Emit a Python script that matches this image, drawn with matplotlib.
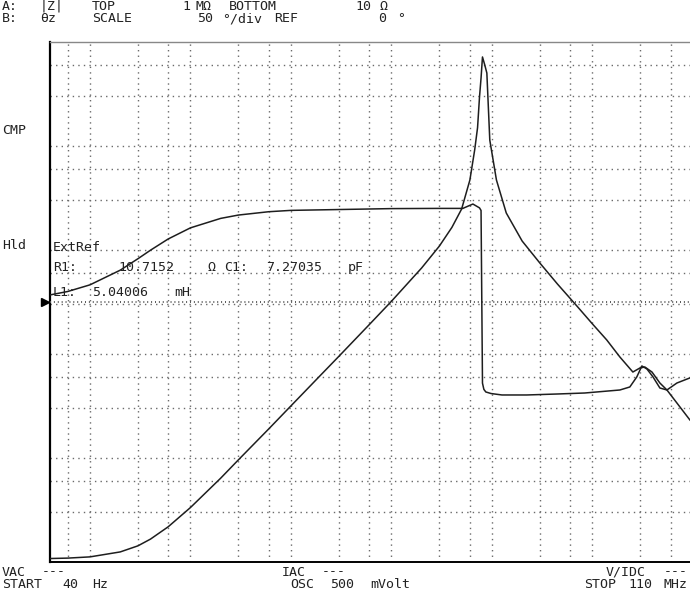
import matplotlib
matplotlib.use("Agg")
import matplotlib.pyplot as plt
from matplotlib.transforms import blended_transform_factory

W, H = 690, 598

# ---- data ----
freq_z = [40, 60, 100, 200, 300, 400, 600, 1e3, 2e3, 3e3, 6e3, 1e4, 2e4, 3e4, 6e4,
          1e5, 2e5, 3e5, 4e5, 5e5, 6.04e5, 6.74e5, 7.2e5, 7.53e5, 7.8e5, 8.06e5, 8.5e5,
          8.91e5, 9.53e5, 1.11e6, 1.39e6, 2e6, 3e6, 4.5e6, 7e6, 1e7, 1.39e7, 1.88e7,
          2.53e7, 2.97e7, 3.33e7, 3.92e7, 4.70e7, 5.52e7, 6.94e7, 9.35e7, 1.1e8]
z_mag = [10.8, 10.9, 11.2, 12.5, 14.3, 16.6, 21.8, 33.4, 64, 96, 190, 317, 634, 950, 1910,
         3210, 6720, 10900, 16500, 24800, 47100, 91600, 150000, 296000, 450000, 718000, 600000,
         503000, 114000, 47100, 22700, 12200, 7500, 4700, 2900, 1950, 1365, 935,
         671, 733, 750, 671, 526, 451, 338, 232, 200]

freq_ph = [40, 60, 100, 200, 300, 400, 600, 1e3, 2e3, 3e3, 6e3, 1e4, 1e5, 3e5,
           5.14e5, 6.47e5, 7.53e5, 7.8e5, 8.06e5, 8.32e5, 8.7e5, 9.8e5, 1.26e6, 2.22e6,
           4.35e6, 8.4e6, 1.88e7, 2.36e7, 2.77e7, 3.11e7, 3.49e7, 4.01e7, 4.70e7,
           5.52e7, 6.94e7, 9.35e7, 1.1e8]
phase = [6.8, 10.1, 16.5, 30.6, 41.6, 49.8, 60.6, 71.3, 80.4, 83.6, 86.8, 88.1, 89.8, 90,
         90, 94.2, 90.5, 88, -78, -84, -86.5, -88, -89.4, -89.4,
         -88.5, -87.5, -84.6, -81.7, -72, -61.5, -64.4, -72, -82.7,
         -84.6, -77.9, -73, -71]

f_start, f_stop = 40, 110e6
z_bottom, z_top = 10, 1e6
ph_ref, ph_scale, n_div = 0, 50, 10

grid_freqs = [m * 10 ** k for k in range(1, 9) for m in (1, 3, 6)]
grid_z = [m * 10 ** k for k in range(1, 7) for m in (1, 3, 6)]

# ---- figure ----
fig = plt.figure(figsize=(W / 100, H / 100), dpi=100)
fig.patch.set_facecolor("white")
ax = fig.add_axes([50 / W, 1 - 562 / H, 647 / W, 520 / H])
ax.set_xscale("log")
ax.set_yscale("log")
ax.set_xlim(f_start, f_stop)
ax.set_ylim(z_bottom, z_top)
ax.set_xticks([]); ax.set_xticks([], minor=True)
ax.set_yticks([]); ax.set_yticks([], minor=True)

ax2 = ax.twinx()
ax2.set_ylim(ph_ref - ph_scale * n_div / 2, ph_ref + ph_scale * n_div / 2)
ax2.set_yticks([]); ax2.set_yticks([], minor=True)
for s in ax2.spines.values():
    s.set_visible(False)

gstyle = dict(color="#6a6a6a", lw=1.0, ls=(0, (1, 3)), zorder=1)
for f in grid_freqs:
    if f_start < f < f_stop:
        ax.axvline(f, **gstyle)
for z in grid_z:
    if z_bottom < z < z_top:
        ax.axhline(z, **gstyle)
# reference line at REF 0 deg
ax2.axhline(ph_ref, color="#555555", lw=1.4, ls=(0, (0.5, 1.5)), zorder=1)

ax.spines["left"].set_color("black"); ax.spines["left"].set_linewidth(1.6)
ax.spines["bottom"].set_color("black"); ax.spines["bottom"].set_linewidth(1.4)
ax.spines["top"].set_color("#888888"); ax.spines["top"].set_linewidth(1.0)
ax.spines["right"].set_visible(False)

ax.plot(freq_z, z_mag, color="#1e1e1e", lw=1.1, zorder=3)
ax2.plot(freq_ph, phase, color="#1e1e1e", lw=1.1, zorder=3)

# reference marker
tr = blended_transform_factory(ax2.transAxes, ax2.transData)
ax2.plot([-0.008], [ph_ref], marker=">", ms=6, color="black", transform=tr, clip_on=False)

# ---- texts ----
font = dict(family="DejaVu Sans Mono", fontsize=9.5, color="#222222", va="center", ha="left")
texts = [
    ("A:", 2, 6), ("|Z|", 40, 6), ("TOP", 92, 6), ("1", 182, 6), ("MΩ", 196, 6),
    ("BOTTOM", 229, 6), ("10", 355, 6), ("Ω", 380, 6),
    ("B:", 2, 19), ("θz", 40, 19), ("SCALE", 92, 19), ("50", 197, 19),
    ("°/div", 222, 19), ("REF", 274, 19), ("0", 378, 19), ("°", 397, 19),
    ("CMP", 2, 131), ("Hld", 2, 245),
    ("ExtRef", 53, 247), ("R1:", 53, 268), ("10.7152", 118, 268), ("Ω", 207, 268),
    ("C1:", 224, 268), ("7.27035", 266, 268), ("pF", 348, 268),
    ("L1:", 53, 292), ("5.04006", 92, 292), ("mH", 174, 292),
    ("VAC", 2, 572), ("---", 42, 572), ("START", 2, 585), ("40", 62, 585), ("Hz", 92, 585),
    ("IAC", 282, 572), ("---", 322, 572), ("OSC", 290, 585), ("500", 330, 585),
    ("mVolt", 370, 585), ("V/IDC", 606, 572), ("---", 664, 572),
    ("STOP", 584, 585), ("110", 628, 585), ("MHz", 664, 585),
]
for s, x, y in texts:
    fig.text(x / W, 1 - y / H, s, **font)

fig.savefig("out.png", dpi=100)
